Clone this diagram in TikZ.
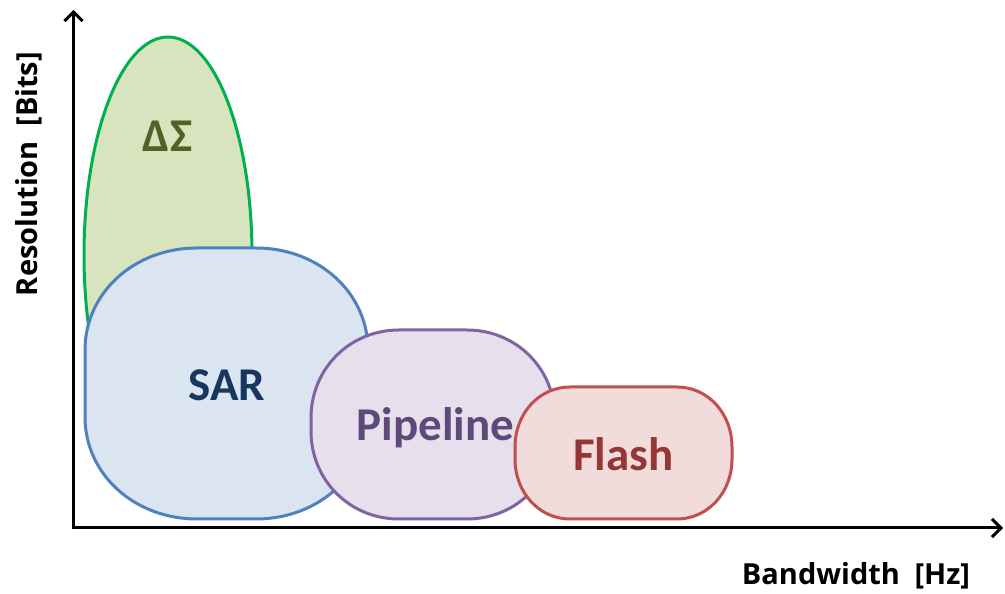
\documentclass[tikz,border=0pt]{standalone}
\usepackage{fontspec}
\setmainfont{Carlito}
\newfontfamily\axisfont{Open Sans}
\usetikzlibrary{arrows.meta}
\definecolor{dsfill}{HTML}{D7E4BD}
\definecolor{dsline}{HTML}{00B050}
\definecolor{dstext}{HTML}{4F6228}
\definecolor{sarfill}{HTML}{DBE5F1}
\definecolor{sarline}{HTML}{4F81BD}
\definecolor{sartext}{HTML}{17375E}
\definecolor{pipfill}{HTML}{E5E0EC}
\definecolor{pipline}{HTML}{8064A2}
\definecolor{piptext}{HTML}{5F497A}
\definecolor{flfill}{HTML}{F2DCDB}
\definecolor{flline}{HTML}{C0504D}
\definecolor{fltext}{HTML}{953735}
\def\kap{0.56}
% rounded rectangle with curved corners: x1,y1 (bottom-left), x2,y2 (top-right), rx, ry
\newcommand\blobrect[6]{({#1+#5},#4) -- ({#3-#5},#4)
  .. controls ({#3-#5+\kap*#5},#4) and (#3,{#4-#6+\kap*#6}) .. (#3,{#4-#6})
  -- (#3,{#2+#6})
  .. controls (#3,{#2+#6-\kap*#6}) and ({#3-#5+\kap*#5},#2) .. ({#3-#5},#2)
  -- ({#1+#5},#2)
  .. controls ({#1+#5-\kap*#5},#2) and (#1,{#2+#6-\kap*#6}) .. (#1,{#2+#6})
  -- (#1,{#4-#6})
  .. controls (#1,{#4-#6+\kap*#6}) and ({#1+#5-\kap*#5},#4) .. ({#1+#5},#4) -- cycle}
\tikzset{
  region/.style={line width=3pt},
  biglabel/.style={font=\fontsize{47}{50}\selectfont\bfseries, anchor=base, inner sep=0pt},
  axislabel/.style={font=\axisfont\fontsize{29}{31}\selectfont\bfseries, anchor=base, inner sep=0pt},
  axisline/.style={line width=3pt, -{Straight Barb[length=9pt,width=18pt,line width=3pt]}}
}
\begin{document}
\begin{tikzpicture}[x=1pt,y=1pt]
\useasboundingbox (0,0) rectangle (1005,594);
% Delta-Sigma region
\draw[region, draw=dsline, fill=dsfill] (168,339) ellipse[x radius=84, y radius=218];
% SAR region
\draw[region, draw=sarline, fill=sarfill] \blobrect{85}{75}{368}{346}{112}{102};
% Pipeline region
\draw[region, draw=pipline, fill=pipfill] \blobrect{311}{75}{555}{264}{88}{88};
% Flash region
\draw[region, draw=flline, fill=flfill] \blobrect{515}{75}{732}{207}{55}{60};
% labels
\node[biglabel, text=dstext] (ds) at (167.5,442) {ΔΣ};
\node[biglabel, text=sartext] (sar) at (227,193) {SAR};
\node[biglabel, text=piptext] (pip) at (435.5,153) {Pipeline};
\node[biglabel, text=fltext] (fl) at (623.5,123) {Flash};
% axes
\coordinate (origin) at (72.5,66);
\coordinate (ytip) at (73.5,584);
\coordinate (xtip) at (1003,66);
\draw[axisline] (origin) -- (xtip);
\draw[axisline] (73.5,64.5) -- (ytip);
\node[axislabel] (xlab) at (856,9) {Bandwidth\hspace{0.5em}[Hz]};
\node[axislabel, rotate=90] (ylab) at (37,420) {Resolution\hspace{0.5em}[Bits]};
\end{tikzpicture}
\end{document}
